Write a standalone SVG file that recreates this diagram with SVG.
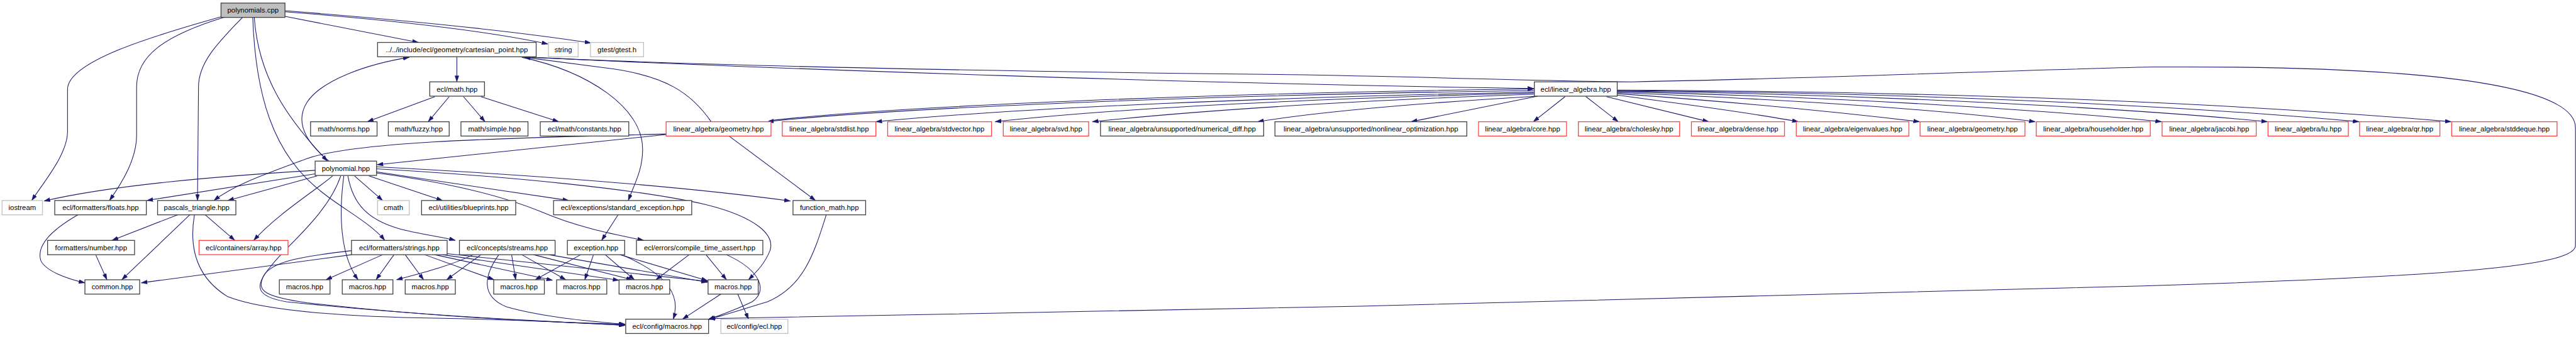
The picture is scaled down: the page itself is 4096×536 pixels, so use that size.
<svg xmlns="http://www.w3.org/2000/svg" width="4096" height="536" viewBox="0 0 4096 536">
<style>
.n rect{fill:#fff;stroke:#404040;stroke-width:1.6}
.r rect{fill:#fff;stroke:#ff4040;stroke-width:1.6}
.g rect{fill:#fff;stroke:#bfbfbf;stroke-width:1.6}
.m rect{fill:#bfbfbf;stroke:#404040;stroke-width:1.6}
text{font-family:"Liberation Sans",Arial,sans-serif;font-size:14px;text-anchor:middle;fill:#000}
#edges path{fill:none;stroke:#191970;stroke-width:1.3;marker-end:url(#ah)}
</style>
<defs>
<marker id="ah" viewBox="0 0 12 8" refX="12" refY="4" markerWidth="12" markerHeight="8" markerUnits="userSpaceOnUse" orient="auto">
<path d="M0,0 L12,4 L0,8 z" fill="#191970" stroke="#191970" stroke-width="0.5"/>
</marker>
</defs>
<rect width="4096" height="536" fill="#fff"/>
<g transform="scale(0.8135)">
<g id="edges">
<path d="M432,33 C300,70 132,120 132,175 L132,257 C132,300 90,350 62,392"/>
<path d="M437,34 C320,70 267,110 267,170 L267,265 C267,310 240,355 214,392"/>
<path d="M474,34 C430,80 388,120 388,170 L386,392"/>
<path d="M497,34 C505,150 560,230 640,315"/>
<path d="M494,34 C500,200 540,290 600,350 C650,400 720,430 752,470"/>
<path d="M557,32 L818,83"/>
<path d="M557,23 C750,38 950,60 1071,86"/>
<path d="M557,21 C800,40 1000,60 1155,84"/>
<path d="M893,111 L893,160"/>
<path d="M850,189 L718,238"/>
<path d="M878,189 L837,238"/>
<path d="M906,189 L948,238"/>
<path d="M940,189 L1092,238"/>
<path d="M1015,111 C1500,135 2400,165 2998,173"/>
<path d="M1040,112 C1400,130 2000,140 2520,146 C2800,150 3050,160 3190,160 C3600,152 3900,138 4210,131 C4700,128 5034,160 5034,250 L5034,480 C5034,520 4800,540 4190,559 C3500,582 2200,610 1386,623"/>
<path d="M643,315 C600,280 575,240 600,200 C630,155 720,125 800,112"/>
<path d="M1390,238 C1350,180 1300,150 1200,135 C1120,125 1060,117 1025,112"/>
<path d="M1020,112 C1150,140 1255,210 1256,290 C1257,330 1240,360 1228,392"/>
<path d="M2998,177 C2400,185 1750,210 1500,238"/>
<path d="M1504,236 C1750,207 2400,181 2998,174"/>
<path d="M2998,180 C2500,190 2000,210 1712,238"/>
<path d="M2998,182 C2600,192 2200,210 1945,238"/>
<path d="M2998,184 C2700,195 2400,210 2135,238"/>
<path d="M3005,188 C2800,200 2600,215 2458,238"/>
<path d="M3005,188 L2758,238"/>
<path d="M3059,189 L2997,238"/>
<path d="M3100,189 L3163,238"/>
<path d="M3140,189 L3340,238"/>
<path d="M3161,186 C3300,205 3420,220 3515,238"/>
<path d="M3161,183 C3400,200 3600,220 3752,238"/>
<path d="M3161,181 C3500,195 3800,215 3978,238"/>
<path d="M3161,179 C3600,190 4000,215 4225,238"/>
<path d="M3161,178 C3700,185 4200,215 4432,238"/>
<path d="M3161,177 C3800,182 4300,210 4611,238"/>
<path d="M3161,176 C3900,180 4400,205 4791,238"/>
<path d="M1302,263 C1100,285 900,305 737,322"/>
<path d="M1302,262 C1000,270 700,275 600,310 C520,340 460,360 418,392"/>
<path d="M1425,266 L1594,392"/>
<path d="M616,333 C420,345 220,362 86,393"/>
<path d="M616,340 L287,392"/>
<path d="M620,344 L445,392"/>
<path d="M650,344 C620,370 540,420 496,470"/>
<path d="M693,344 L748,392"/>
<path d="M721,344 L865,392"/>
<path d="M680,344 C690,400 720,430 780,447 C820,458 860,462 890,470"/>
<path d="M672,344 C662,420 665,500 700,547"/>
<path d="M666,344 C640,420 560,480 530,520 C495,560 500,580 560,590 C800,615 1000,625 1222,636"/>
<path d="M735,336 L1112,392"/>
<path d="M735,326 C1000,340 1300,360 1545,393"/>
<path d="M735,338 C900,360 1000,390 1060,415 C1130,445 1200,458 1258,470"/>
<path d="M735,330 C1000,345 1250,370 1380,400 C1480,425 1515,460 1505,490 C1495,515 1480,530 1463,547"/>
<path d="M687,498 L276,553"/>
<path d="M748,498 L637,547"/>
<path d="M770,498 L735,547"/>
<path d="M792,498 L828,547"/>
<path d="M830,498 L966,547"/>
<path d="M850,498 L1080,548"/>
<path d="M865,498 L1210,548"/>
<path d="M874,496 L1383,550"/>
<path d="M687,490 C600,500 530,510 515,540 C500,570 520,580 600,592 C800,615 1000,628 1222,634"/>
<path d="M940,498 L873,547"/>
<path d="M925,498 C880,520 820,535 775,547"/>
<path d="M1000,498 L1008,547"/>
<path d="M1020,498 L1106,547"/>
<path d="M1043,498 L1236,547"/>
<path d="M1073,498 L1383,552"/>
<path d="M975,498 C945,540 940,580 990,600 C1060,620 1150,628 1222,634"/>
<path d="M1135,498 L1046,547"/>
<path d="M1160,498 L1143,547"/>
<path d="M1183,498 L1240,547"/>
<path d="M1212,498 L1383,549"/>
<path d="M1220,500 C1310,540 1330,580 1316,624"/>
<path d="M1208,420 L1176,470"/>
<path d="M1347,498 L1282,547"/>
<path d="M1380,498 L1420,547"/>
<path d="M1420,498 C1490,530 1500,570 1470,590 C1440,605 1410,615 1384,625"/>
<path d="M1615,420 C1590,500 1570,560 1500,590 C1450,605 1420,615 1386,624"/>
<path d="M1409,575 L1334,624"/>
<path d="M1442,575 L1463,624"/>
<path d="M152,420 C100,450 70,480 80,510 C90,530 130,545 166,553"/>
<path d="M347,420 L219,470"/>
<path d="M371,420 L238,547"/>
<path d="M401,420 L459,470"/>
<path d="M380,420 C370,480 380,540 445,580 C520,610 700,620 850,622 C1000,625 1150,632 1222,636"/>
<path d="M187,498 L209,547"/>
</g>
<g id="n0" class="m"><rect x="432" y="6" width="125" height="28"/><text x="494.5" y="25">polynomials.cpp</text></g>
<g id="n1" class="n"><rect x="738" y="83" width="310" height="28"/><text x="893" y="102">../../include/ecl/geometry/cartesian_point.hpp</text></g>
<g id="n2" class="g"><rect x="1072" y="83" width="58" height="28"/><text x="1101" y="102">string</text></g>
<g id="n3" class="g"><rect x="1154" y="83" width="104" height="28"/><text x="1206" y="102">gtest/gtest.h</text></g>
<g id="n4" class="n"><rect x="840" y="160" width="107" height="28"/><text x="893.5" y="179">ecl/math.hpp</text></g>
<g id="n5" class="n"><rect x="2999" y="160" width="162" height="28"/><text x="3080" y="179">ecl/linear_algebra.hpp</text></g>
<g id="n6" class="n"><rect x="607" y="238" width="130" height="28"/><text x="672" y="257">math/norms.hpp</text></g>
<g id="n7" class="n"><rect x="759" y="238" width="119" height="28"/><text x="818.5" y="257">math/fuzzy.hpp</text></g>
<g id="n8" class="n"><rect x="901" y="238" width="131" height="28"/><text x="966.5" y="257">math/simple.hpp</text></g>
<g id="n9" class="n"><rect x="1056" y="238" width="173" height="28"/><text x="1142.5" y="257">ecl/math/constants.hpp</text></g>
<g id="n10" class="r"><rect x="1302" y="238" width="205" height="28"/><text x="1404.5" y="257">linear_algebra/geometry.hpp</text></g>
<g id="n11" class="r"><rect x="1529" y="238" width="183" height="28"/><text x="1620.5" y="257">linear_algebra/stdlist.hpp</text></g>
<g id="n12" class="r"><rect x="1735" y="238" width="203" height="28"/><text x="1836.5" y="257">linear_algebra/stdvector.hpp</text></g>
<g id="n13" class="r"><rect x="1961" y="238" width="167" height="28"/><text x="2044.5" y="257">linear_algebra/svd.hpp</text></g>
<g id="n14" class="n"><rect x="2151" y="238" width="319" height="28"/><text x="2310.5" y="257">linear_algebra/unsupported/numerical_diff.hpp</text></g>
<g id="n15" class="n"><rect x="2492" y="238" width="375" height="28"/><text x="2679.5" y="257">linear_algebra/unsupported/nonlinear_optimization.hpp</text></g>
<g id="n16" class="r"><rect x="2890" y="238" width="172" height="28"/><text x="2976" y="257">linear_algebra/core.hpp</text></g>
<g id="n17" class="r"><rect x="3085" y="238" width="198" height="28"/><text x="3184" y="257">linear_algebra/cholesky.hpp</text></g>
<g id="n18" class="r"><rect x="3306" y="238" width="182" height="28"/><text x="3397" y="257">linear_algebra/dense.hpp</text></g>
<g id="n19" class="r"><rect x="3511" y="238" width="220" height="28"/><text x="3621" y="257">linear_algebra/eigenvalues.hpp</text></g>
<g id="n20" class="r"><rect x="3753" y="238" width="205" height="28"/><text x="3855.5" y="257">linear_algebra/geometry.hpp</text></g>
<g id="n21" class="r"><rect x="3980" y="238" width="223" height="28"/><text x="4091.5" y="257">linear_algebra/householder.hpp</text></g>
<g id="n22" class="r"><rect x="4226" y="238" width="184" height="28"/><text x="4318" y="257">linear_algebra/jacobi.hpp</text></g>
<g id="n23" class="r"><rect x="4433" y="238" width="157" height="28"/><text x="4511.5" y="257">linear_algebra/lu.hpp</text></g>
<g id="n24" class="r"><rect x="4612" y="238" width="157" height="28"/><text x="4690.5" y="257">linear_algebra/qr.hpp</text></g>
<g id="n25" class="r"><rect x="4792" y="238" width="206" height="28"/><text x="4895" y="257">linear_algebra/stddeque.hpp</text></g>
<g id="n26" class="n"><rect x="616" y="315" width="120" height="28"/><text x="676" y="334">polynomial.hpp</text></g>
<g id="n27" class="g"><rect x="4" y="392" width="79" height="28"/><text x="43.5" y="411">iostream</text></g>
<g id="n28" class="n"><rect x="107" y="392" width="179" height="28"/><text x="196.5" y="411">ecl/formatters/floats.hpp</text></g>
<g id="n29" class="n"><rect x="308" y="392" width="153" height="28"/><text x="384.5" y="411">pascals_triangle.hpp</text></g>
<g id="n30" class="g"><rect x="738" y="392" width="62" height="28"/><text x="769" y="411">cmath</text></g>
<g id="n31" class="n"><rect x="824" y="392" width="184" height="28"/><text x="916" y="411">ecl/utilities/blueprints.hpp</text></g>
<g id="n32" class="n"><rect x="1082" y="392" width="270" height="28"/><text x="1217" y="411">ecl/exceptions/standard_exception.hpp</text></g>
<g id="n33" class="n"><rect x="1550" y="392" width="142" height="28"/><text x="1621" y="411">function_math.hpp</text></g>
<g id="n34" class="n"><rect x="93" y="470" width="170" height="28"/><text x="178" y="489">formatters/number.hpp</text></g>
<g id="n35" class="r"><rect x="389" y="470" width="174" height="28"/><text x="476" y="489">ecl/containers/array.hpp</text></g>
<g id="n36" class="n"><rect x="687" y="470" width="187" height="28"/><text x="780.5" y="489">ecl/formatters/strings.hpp</text></g>
<g id="n37" class="n"><rect x="898" y="470" width="187" height="28"/><text x="991.5" y="489">ecl/concepts/streams.hpp</text></g>
<g id="n38" class="n"><rect x="1109" y="470" width="112" height="28"/><text x="1165" y="489">exception.hpp</text></g>
<g id="n39" class="n"><rect x="1244" y="470" width="247" height="28"/><text x="1367.5" y="489">ecl/errors/compile_time_assert.hpp</text></g>
<g id="n40" class="n"><rect x="166" y="547" width="107" height="28"/><text x="219.5" y="566">common.hpp</text></g>
<g id="n41" class="n"><rect x="546" y="547" width="99" height="28"/><text x="595.5" y="566">macros.hpp</text></g>
<g id="n42" class="n"><rect x="669" y="547" width="99" height="28"/><text x="718.5" y="566">macros.hpp</text></g>
<g id="n43" class="n"><rect x="792" y="547" width="98" height="28"/><text x="841" y="566">macros.hpp</text></g>
<g id="n44" class="n"><rect x="965" y="547" width="99" height="28"/><text x="1014.5" y="566">macros.hpp</text></g>
<g id="n45" class="n"><rect x="1088" y="547" width="98" height="28"/><text x="1137" y="566">macros.hpp</text></g>
<g id="n46" class="n"><rect x="1210" y="547" width="99" height="28"/><text x="1259.5" y="566">macros.hpp</text></g>
<g id="n47" class="n"><rect x="1384" y="547" width="98" height="28"/><text x="1433" y="566">macros.hpp</text></g>
<g id="n48" class="n"><rect x="1223" y="624" width="162" height="28"/><text x="1304" y="643">ecl/config/macros.hpp</text></g>
<g id="n49" class="g"><rect x="1409" y="624" width="131" height="28"/><text x="1474.5" y="643">ecl/config/ecl.hpp</text></g>
</g>
</svg>
